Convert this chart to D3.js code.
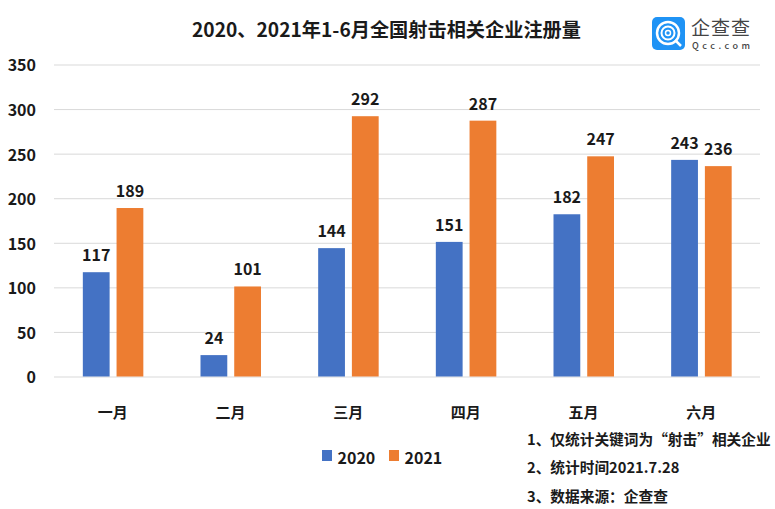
<!DOCTYPE html>
<html lang="zh">
<head>
<meta charset="UTF-8"/>
<title>2020、2021年1-6月全国射击相关企业注册量</title>
<script src="https://d3js.org/d3.v7.min.js"></script>
<style>
html, body { margin: 0; padding: 0; background: #fff; }
svg { display: block; }
text { font-family: "Noto Sans CJK SC", "Noto Sans", sans-serif; fill: #1a1a1a; font-weight: 700; }
.grid line { stroke: #d9d9d9; stroke-width: 1; }
.grid path { stroke: none; }
.axis path, .axis line { stroke: none; }
.axis text { font-size: 16px; font-family: "Noto Sans CJK SC", sans-serif; }
.value { font-size: 16px; text-anchor: middle; }
.title { font-size: 19.2px; text-anchor: middle; }
.note { font-size: 14.7px; }
.legend { font-size: 16px; }
</style>
</head>
<body>
<svg width="775" height="509"></svg>
<script>
const months = ['一月', '二月', '三月', '四月', '五月', '六月'];
const seriesNames = ['2020', '2021'];
const values2020 = [117, 24, 144, 151, 182, 243];
const values2021 = [189, 101, 292, 287, 247, 236];
const yTicks = [0, 50, 100, 150, 200, 250, 300, 350];
const notes = ['1、仅统计关键词为“射击”相关企业', '2、统计时间2021.7.28', '3、数据来源：企查查'];
const colors = ['#4472c4', '#ed7d31'];

const svg = d3.select('svg');
const plotLeft = 54, plotRight = 760, plotTop = 64.5, plotBottom = 376.5;

const x = d3.scaleBand().domain(months).range([plotLeft, plotRight]);
const x1 = d3.scaleBand().domain(seriesNames).range([-30, 30.5]).paddingInner(7 / 34);
const y = d3.scaleLinear().domain([0, 350]).range([plotBottom, plotTop]);

svg.append('text').attr('class', 'title').attr('x', 386.5).attr('y', 37)
  .text('2020、2021年1-6月全国射击相关企业注册量');

// gridlines
svg.append('g').attr('class', 'grid')
  .attr('transform', `translate(${plotLeft},0)`)
  .call(d3.axisLeft(y).tickValues(yTicks).tickSize(-(plotRight - plotLeft)).tickFormat(''));

const yAxis = svg.append('g').attr('class', 'axis')
  .attr('transform', `translate(${plotLeft},0)`)
  .call(d3.axisLeft(y).tickValues(yTicks).tickSize(0));
yAxis.selectAll('text').attr('x', -18).attr('dy', '0.4em');

const xAxis = svg.append('g').attr('class', 'axis')
  .attr('transform', `translate(0,${plotBottom})`)
  .call(d3.axisBottom(x).tickSize(0));
xAxis.selectAll('text').attr('y', 41).attr('dy', 0).style('font-size', '15px');

[values2020, values2021].forEach((vals, s) => {
  const name = seriesNames[s];
  svg.append('g').selectAll('rect').data(vals).enter().append('rect')
    .attr('x', (d, i) => x(months[i]) + x.bandwidth() / 2 + x1(name))
    .attr('y', d => y(d))
    .attr('width', x1.bandwidth())
    .attr('height', d => plotBottom - y(d))
    .attr('fill', colors[s]);
  svg.append('g').selectAll('text').data(vals).enter().append('text')
    .attr('class', 'value')
    .attr('x', (d, i) => x(months[i]) + x.bandwidth() / 2 + x1(name) + x1.bandwidth() / 2)
    .attr('y', d => y(d) - 11)
    .text(d => d);
});

// legend
const legendX = [322, 389];
seriesNames.forEach((name, i) => {
  svg.append('rect').attr('x', legendX[i]).attr('y', 450).attr('width', 10).attr('height', 11).attr('fill', colors[i]);
  svg.append('text').attr('class', 'legend').attr('x', legendX[i] + 15.5).attr('y', 464).text(name);
});

// notes
svg.append('g').selectAll('text').data(notes).enter().append('text')
  .attr('class', 'note').attr('x', 527).attr('y', (d, i) => 444.5 + i * 28.5).text(d => d);

// logo
const logo = svg.append('g').attr('transform', 'translate(652,17)');
logo.append('rect').attr('width', 33).attr('height', 33).attr('rx', 5).attr('fill', '#1f93f5');
logo.append('circle').attr('cx', 16).attr('cy', 16).attr('r', 11).attr('fill', 'none').attr('stroke', '#fff').attr('stroke-width', 2.5);
logo.append('circle').attr('cx', 16).attr('cy', 16).attr('r', 6.5).attr('fill', 'none').attr('stroke', '#fff').attr('stroke-width', 2);
logo.append('circle').attr('cx', 16).attr('cy', 16).attr('r', 2.5).attr('fill', 'none').attr('stroke', '#fff').attr('stroke-width', 1.5);
logo.append('line').attr('x1', 23).attr('y1', 23).attr('x2', 29).attr('y2', 29).attr('stroke', '#fff').attr('stroke-width', 2.5);
svg.append('text').attr('x', 691).attr('y', 34.5).attr('textLength', 59)
  .style('font-size', '19px').style('font-weight', 400).style('fill', '#444').text('企查查');
svg.append('text').attr('x', 692).attr('y', 49).attr('textLength', 58)
  .style('font-size', '9px').style('font-weight', 500).style('fill', '#444').text('Qcc.com');
</script>
</body>
</html>
